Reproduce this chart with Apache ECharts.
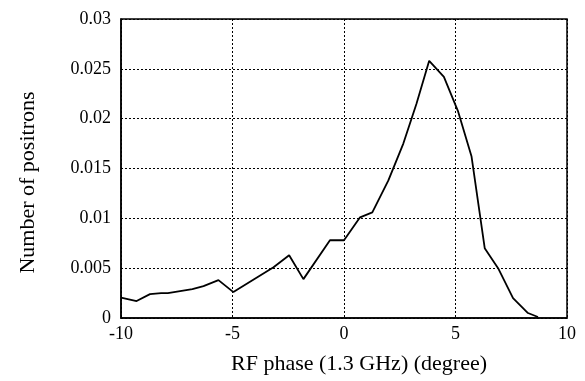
<!DOCTYPE html>
<html>
<head>
<meta charset="utf-8">
<script src="https://cdn.jsdelivr.net/npm/echarts@6/dist/echarts.min.js"></script>
<style>
  html, body { margin: 0; padding: 0; background: #fff; }
  #chart { width: 585px; height: 381px; }
</style>
</head>
<body>
<div id="chart"></div>
<script>
// RF phase (degree) and number of positrons
const phase = [-10, -9.3, -8.7, -8.2, -7.9, -6.8, -6.3, -5.63, -4.96, -3.16, -2.46, -1.82, -0.63, 0, 0.72, 1.27, 1.99, 2.66, 3.25, 3.82, 4.48, 5.12, 5.72, 6.31, 6.91, 7.58, 8.25, 8.7];
const positrons = [0.00205, 0.0017, 0.0024, 0.0025, 0.0025, 0.0029, 0.0032, 0.0038, 0.0026, 0.0051, 0.0063, 0.0039, 0.0078, 0.0078, 0.0101, 0.0106, 0.0138, 0.0175, 0.0215, 0.0258, 0.0242, 0.0207, 0.0162, 0.007, 0.005, 0.002, 0.0005, 0.0001];

const xTicks = [-10, -5, 0, 5, 10];
const yTicks = [0, 0.005, 0.01, 0.015, 0.02, 0.025, 0.03];

const font = '"Liberation Serif", "DejaVu Serif", serif';

const chart = echarts.init(document.getElementById('chart'));

const option = {
  animation: false,
  grid: {
    left: 121, right: 18, top: 19, bottom: 63,
    show: true,
    borderColor: '#000',
    borderWidth: 1.5,
  },
  xAxis: {
    type: 'value',
    min: xTicks[0],
    max: xTicks[xTicks.length - 1],
    interval: 5,
    name: 'RF phase (1.3 GHz) (degree)',
    nameLocation: 'middle',
    nameGap: 35,
    // nudge a bit right, like the original
    nameTextStyle: { fontFamily: font, fontSize: 22, color: '#000', padding: [0, 0, 0, 30] },
    axisLine: { onZero: false, lineStyle: { color: '#000', width: 1.5 } },
    axisTick: { show: false },
    axisLabel: { fontFamily: font, fontSize: 18, color: '#000', margin: 7 },
    splitLine: { show: true, lineStyle: { color: '#000', type: [2, 2], width: 1 } },
  },
  yAxis: {
    type: 'value',
    min: yTicks[0],
    max: yTicks[yTicks.length - 1],
    interval: 0.005,
    name: 'Number of positrons',
    nameLocation: 'middle',
    nameGap: 82,
    nameTextStyle: { fontFamily: font, fontSize: 22, color: '#000', padding: [0, 28, 0, 0] },
    axisLine: { show: true, onZero: false, lineStyle: { color: '#000', width: 1.5 } },
    axisTick: { show: false },
    axisLabel: { fontFamily: font, fontSize: 18, color: '#000', margin: 10,
      formatter: (v) => String(+v.toFixed(3)) },
    splitLine: { show: true, lineStyle: { color: '#000', type: [2, 2], width: 1 } },
  },
  series: [
    {
      type: 'line',
      data: phase.map((p, i) => [p, positrons[i]]),
      showSymbol: false,
      lineStyle: { color: '#000', width: 1.8 },
    },
  ],
};

chart.setOption(option);
</script>
</body>
</html>
